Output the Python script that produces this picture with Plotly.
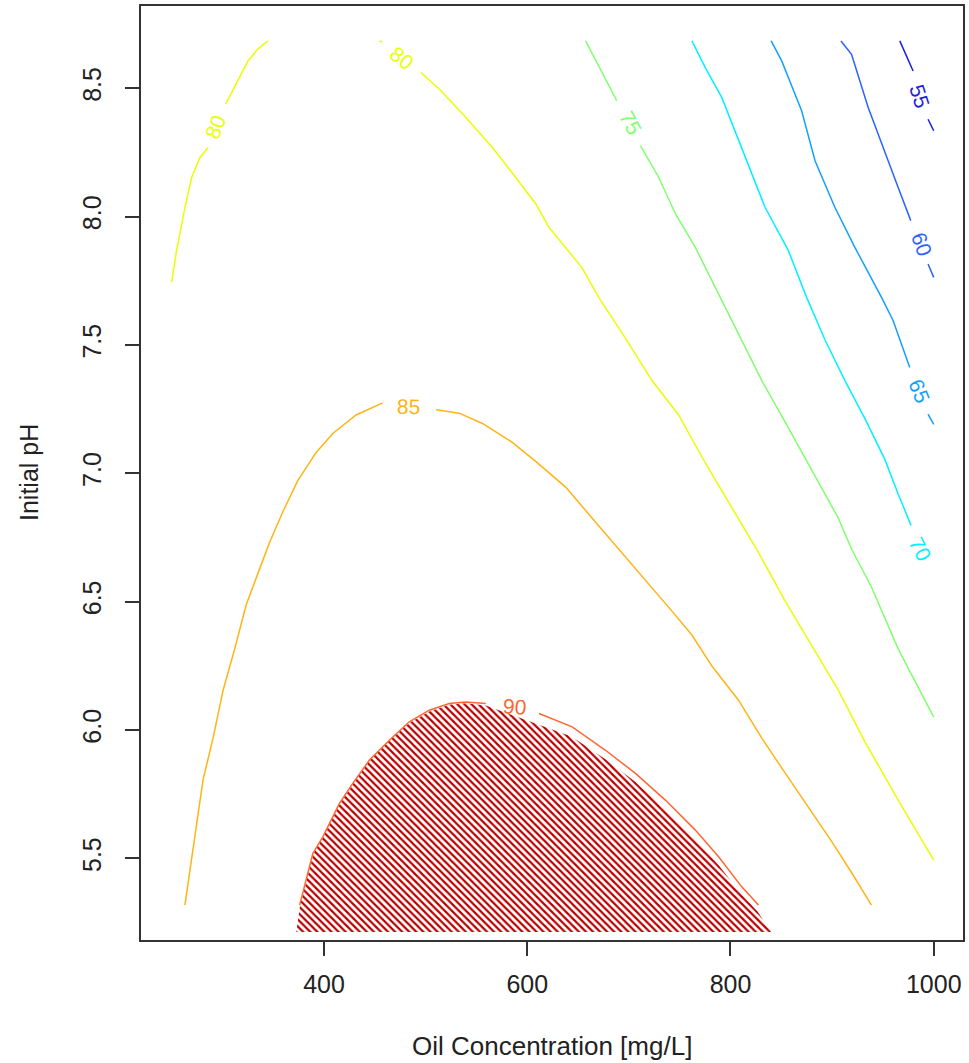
import plotly.graph_objects as go

# ---------------- data ----------------
x_ticks = [400, 600, 800, 1000]
y_ticks = [5.5, 6.0, 6.5, 7.0, 7.5, 8.0, 8.5]
x_tick_text = ["400", "600", "800", "1000"]
y_tick_text = ["5.5", "6.0", "6.5", "7.0", "7.5", "8.0", "8.5"]
x_range = [219.9, 1028.8]
y_range = [5.182, 8.820]

levels = [55, 60, 65, 70, 75, 80, 85, 90]

# contour segments (broken where R put the labels)
c55_x = [[966.6, 972.8, 979.7], [994.4, 1000.0]]
c55_y = [[8.684, 8.626, 8.567], [8.379, 8.334]]

c60_x = [[908.7, 919.1, 935.5, 951.9, 965.0, 977.4], [994.4, 1000.0]]
c60_y = [[8.684, 8.632, 8.425, 8.256, 8.113, 7.984], [7.815, 7.763]]

c65_x = [[840.0, 850.4, 870.0, 883.2, 902.8, 922.4, 948.6, 960.0, 976.4], [994.4, 1000.0]]
c65_y = [[8.684, 8.606, 8.412, 8.217, 8.035, 7.880, 7.685, 7.595, 7.412], [7.230, 7.190]]

c70_x = [[762.0, 775.2, 791.5, 814.5, 834.1, 857.0, 874.9, 893.3, 912.6, 932.3, 951.9, 965.0, 977.7]]
c70_y = [[8.684, 8.580, 8.463, 8.230, 8.035, 7.867, 7.685, 7.517, 7.361, 7.213, 7.054, 6.919, 6.797]]

c75_x = [[657.4, 672.4, 688.1],
         [711.4, 729.4, 745.8, 765.4, 789.9, 809.9, 830.8, 853.7, 879.8, 906.1, 919.1, 938.7, 965.0, 1000.0]]
c75_y = [[8.684, 8.567, 8.451],
         [8.276, 8.152, 8.011, 7.880, 7.685, 7.525, 7.361, 7.200, 7.013, 6.825, 6.705, 6.557, 6.316, 6.050]]

c80_x = [[250.0, 254.9, 263.1, 269.6, 277.8, 285.9],
         [303.3, 313.8, 325.2, 335.0, 344.8],
         [454.5, 457.4],
         [495.4, 515.1, 539.6, 565.7, 588.7, 608.3, 621.4, 638.1, 653.8, 670.5, 695.0, 722.8, 749.0,
          775.2, 801.3, 827.5, 853.7, 879.8, 906.1, 932.3, 965.0, 1000.0]]
c80_y = [[7.744, 7.867, 8.034, 8.151, 8.229, 8.269],
         [8.439, 8.517, 8.606, 8.653, 8.684],
         [8.684, 8.680],
         [8.561, 8.490, 8.386, 8.269, 8.152, 8.050, 7.958, 7.875, 7.801, 7.684, 7.536, 7.361, 7.227,
          7.040, 6.865, 6.692, 6.503, 6.330, 6.155, 5.954, 5.727, 5.493]]

c85_x = [[263.1, 272.9, 281.0, 290.8, 300.7, 312.1, 323.6, 335.0, 346.5, 359.6, 374.3, 392.3, 408.6, 431.6, 457.7],
         [510.1, 533.0, 555.9, 585.3, 608.3, 637.8, 663.9, 690.1, 716.3, 742.4, 762.0, 781.7, 807.9, 830.8,
          853.7, 876.6, 899.5, 919.1, 938.7]]
c85_y = [[5.318, 5.579, 5.807, 5.968, 6.155, 6.316, 6.490, 6.610, 6.731, 6.851, 6.972, 7.081, 7.155, 7.227, 7.274],
         [7.247, 7.234, 7.194, 7.120, 7.046, 6.946, 6.825, 6.705, 6.584, 6.463, 6.370, 6.249, 6.116, 5.968,
          5.833, 5.700, 5.566, 5.445, 5.318]]

c90_x = [[376.0, 382.5, 389.0, 398.8, 405.4, 415.2, 428.3, 444.7, 464.3, 483.9, 503.6, 523.2, 539.6, 559.2],
         [611.6, 644.2, 677.0, 706.5, 735.9, 765.4, 788.3, 811.1, 827.5]]
c90_y = [[5.318, 5.416, 5.519, 5.584, 5.636, 5.714, 5.792, 5.883, 5.960, 6.032, 6.077, 6.103, 6.109, 6.103],
         [6.064, 6.012, 5.921, 5.831, 5.727, 5.610, 5.506, 5.389, 5.318]]

# hatched region (response > 90)
hatch_x = [372.7, 376.5, 383.0, 389.5, 399.3, 405.9, 415.7, 428.8, 445.2, 464.6, 484.1, 503.7, 523.2,
           539.6, 559.2, 585.0, 611.0, 643.5, 676.2, 705.6, 735.0, 764.5, 787.4, 810.2, 826.6, 840.0]
hatch_y = [5.213, 5.318, 5.416, 5.519, 5.584, 5.636, 5.714, 5.792, 5.883, 5.960, 6.028, 6.072, 6.098,
           6.104, 6.095, 6.058, 6.020, 5.975, 5.888, 5.800, 5.697, 5.580, 5.478, 5.363, 5.293, 5.213]

# contour labels
lab_text = ["55", "60", "65", "70", "75", "80", "80", "85", "90"]
lab_level = [55, 60, 65, 70, 75, 80, 80, 85, 90]
lab_x = [985.6, 987.8, 986.3, 986.6, 701.6, 293.5, 475.8, 483.2, 587.0]
lab_y = [8.470, 7.893, 7.320, 6.707, 8.366, 8.349, 8.618, 7.260, 6.090]
lab_angle = [72, 70, 68, 63, 62, -68, 38, 1, 4]

# ---------------- styling ----------------
level_colors = {
    55: "#1C1CE0",
    60: "#2A62FF",
    65: "#12A0FF",
    70: "#00F2FF",
    75: "#80FF70",
    80: "#E8FF00",
    85: "#FFB414",
    90: "#FF6633",
}
hatch_color = "#B80000"
FONT = "Liberation Sans, Arial, sans-serif"
axis_color = "#333333"

segments = {
    55: (c55_x, c55_y), 60: (c60_x, c60_y), 65: (c65_x, c65_y), 70: (c70_x, c70_y),
    75: (c75_x, c75_y), 80: (c80_x, c80_y), 85: (c85_x, c85_y), 90: (c90_x, c90_y),
}

fig = go.Figure()

# hatched polygon
fig.add_trace(go.Scatter(
    x=hatch_x, y=hatch_y, mode="lines", fill="toself",
    line=dict(width=0, color="rgba(0,0,0,0)"),
    fillcolor="rgba(255,255,255,0)",
    fillpattern=dict(shape="\\", fgcolor=hatch_color, bgcolor="white", size=5, solidity=0.45,
                     fgopacity=1),
    hoverinfo="skip", showlegend=False,
))

for lv in levels:
    xs_list, ys_list = segments[lv]
    xs, ys = [], []
    for sx, sy in zip(xs_list, ys_list):
        xs += list(sx) + [None]
        ys += list(sy) + [None]
    fig.add_trace(go.Scatter(
        x=xs, y=ys, mode="lines",
        line=dict(color=level_colors[lv], width=1.5),
        hoverinfo="skip", showlegend=False, connectgaps=False,
    ))

for t, lv, x, y, a in zip(lab_text, lab_level, lab_x, lab_y, lab_angle):
    fig.add_annotation(
        x=x, y=y, xref="x", yref="y", text=t, showarrow=False, textangle=a,
        font=dict(family=FONT, size=21, color=level_colors[lv]),
    )

# axis titles
fig.add_annotation(
    x=0.5, y=0, xref="paper", yref="paper", yshift=-106, yanchor="middle", xanchor="center",
    text="Oil Concentration [mg/L]", showarrow=False,
    font=dict(family=FONT, size=26, color="#222222"),
)
fig.add_annotation(
    x=0, y=0.5, xref="paper", yref="paper", xshift=-112, xanchor="center", yanchor="middle",
    text="Initial pH", showarrow=False, textangle=-90,
    font=dict(family=FONT, size=25, color="#222222"),
)

axis_common = dict(
    showgrid=False, zeroline=False, showline=True, linecolor=axis_color, linewidth=2,
    mirror=True, ticks="outside", ticklen=14, tickwidth=2, tickcolor=axis_color,
    tickfont=dict(family=FONT, size=25, color="#222222"),
)
fig.update_xaxes(range=x_range, tickmode="array", tickvals=x_ticks, ticktext=x_tick_text,
                 ticklabelstandoff=7, **axis_common)
fig.update_yaxes(range=y_range, tickmode="array", tickvals=y_ticks, ticktext=y_tick_text,
                 tickangle=-90, ticklabelstandoff=14, **axis_common)

fig.update_layout(
    width=969, height=1063,
    margin=dict(l=141, r=4, t=5, b=123),
    plot_bgcolor="white", paper_bgcolor="white",
    showlegend=False,
)

fig.write_html("out.html", config={"displayModeBar": False},
               post_script="document.body.style.margin='0';")
